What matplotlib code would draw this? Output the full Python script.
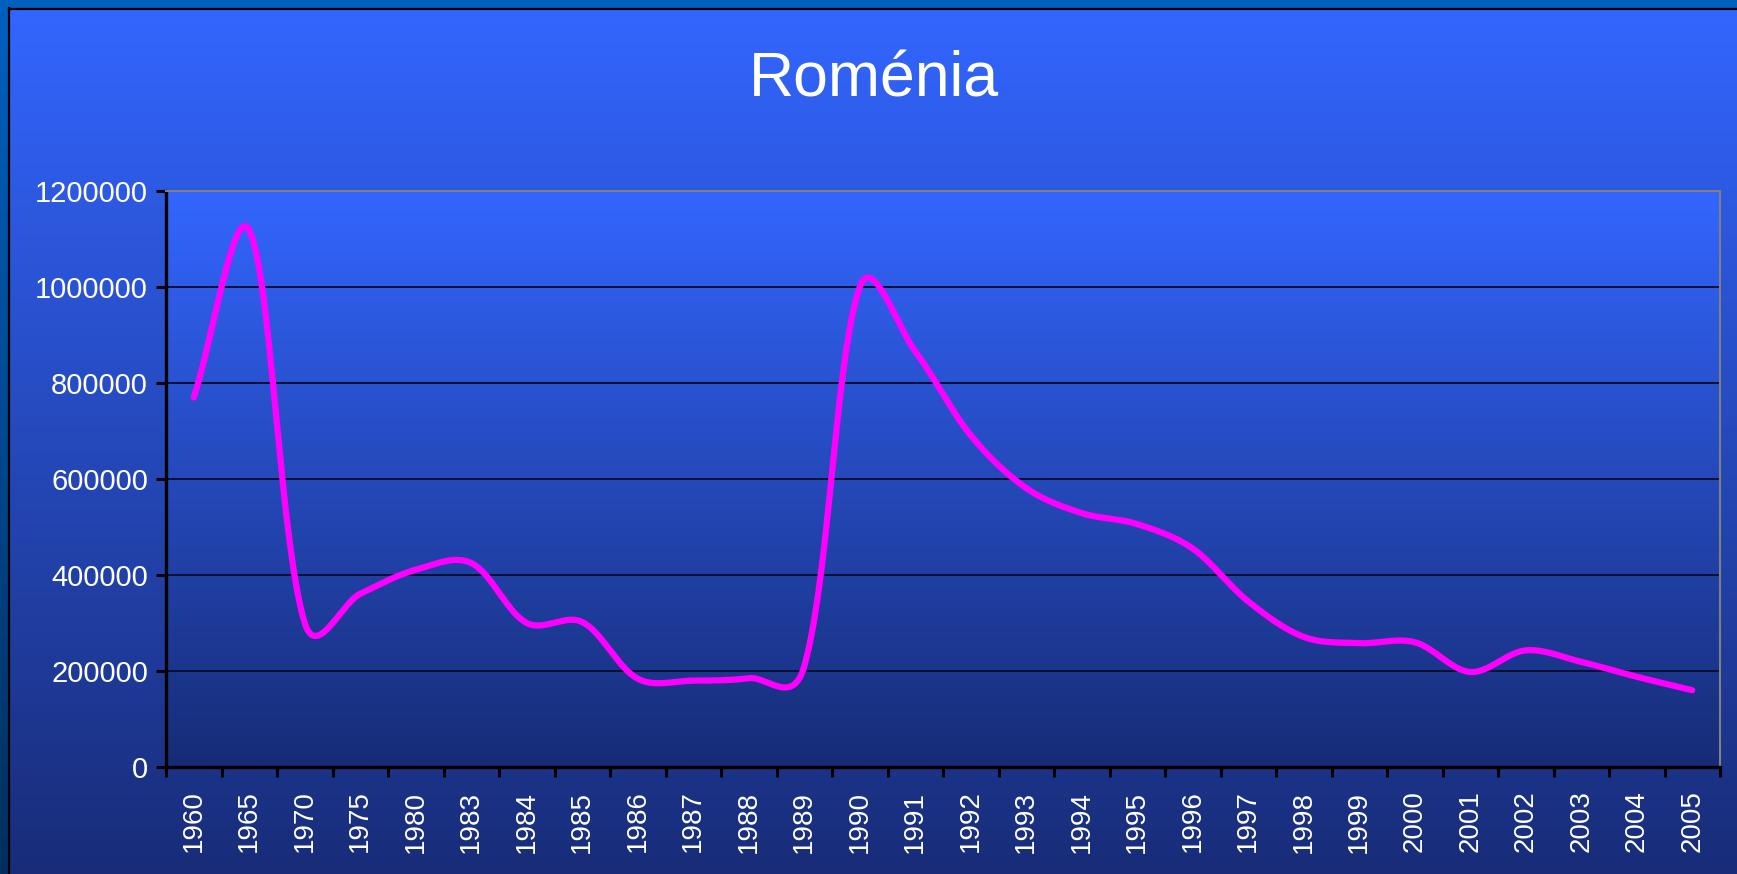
import numpy as np
import matplotlib
matplotlib.use('Agg')
import matplotlib.pyplot as plt
from matplotlib.lines import Line2D

plt.rcParams['font.family'] = ['Liberation Sans', 'DejaVu Sans']

anos = ['1960', '1965', '1970', '1975', '1980', '1983', '1984', '1985', '1986',
        '1987', '1988', '1989', '1990', '1991', '1992', '1993', '1994', '1995',
        '1996', '1997', '1998', '1999', '2000', '2001', '2002', '2003', '2004',
        '2005']
valores = [770000, 1118000, 300000, 361000, 411000, 425000, 300000, 302000,
           184000, 180000, 185000, 210000, 1000000, 866000, 691000, 581000,
           529000, 506000, 455000, 345000, 271000, 258000, 260000, 198000,
           243000, 219000, 188000, 160000]
marcas_y = [0, 200000, 400000, 600000, 800000, 1000000, 1200000]

W, H = 1737, 874
fig = plt.figure(figsize=(W / 100, H / 100), dpi=100)


def gradiente(c_top, c_bot, n=256):
    t = np.linspace(0, 1, n)[:, None]
    c_top = np.array(c_top) / 255
    c_bot = np.array(c_bot) / 255
    g = c_top * (1 - t) + c_bot * t
    return g[:, None, :]


# fundo do slide
bg = fig.add_axes([0, 0, 1, 1])
bg.imshow(gradiente((0, 96, 192), (0, 48, 96)), extent=[0, 1, 0, 1], aspect='auto')
bg.axis('off')

# área do gráfico
ca = fig.add_axes([9 / W, 0, 1 - 9 / W, 1 - 9 / H])
ca.imshow(gradiente((51, 102, 255), (24, 44, 120)), extent=[0, 1, 0, 1], aspect='auto')
ca.axis('off')
fig.add_artist(Line2D([8.5 / W, 8.5 / W], [0, 1 - 8 / H], color='black', lw=1.6))
fig.add_artist(Line2D([8.5 / W, 1], [1 - 8.5 / H, 1 - 8.5 / H], color='black', lw=1.6))

fig.text(874 / W, 1 - 80 / H, 'Roménia', color='white', fontsize=45,
         ha='center', va='center')

# área de plotagem
ax = fig.add_axes([166 / W, 107 / H, 1554 / W, 576 / H])
n = len(anos)
ax.set_xlim(0, n)
ax.set_ylim(0, 1200000)
ax.imshow(gradiente((51, 102, 255), (22, 44, 118)), extent=[0, n, 0, 1200000],
          aspect='auto', zorder=0)
for v in marcas_y[1:-1]:
    ax.axhline(v, color='#0a0f30', lw=1.4, zorder=1)

# linha suavizada: Bezier em pixels, tangentes amortecidas pelo comprimento dos trechos
x = np.arange(n) + 0.5
P = ax.transData.transform(np.column_stack([x, valores]))
c_in = P.copy()
c_out = P.copy()
for i in range(1, n - 1):
    T = P[i + 1] - P[i - 1]
    d1 = np.linalg.norm(P[i] - P[i - 1])
    d2 = np.linalg.norm(P[i + 1] - P[i])
    s_in = 0.25 + 0.5 * d1 / (d1 + d2)
    s_out = 0.25 + 0.5 * d2 / (d1 + d2)
    c_in[i] = P[i] - T * s_in / 3
    c_out[i] = P[i] + T * s_out / 3
c_out[0] = P[0] + (P[1] - P[0]) / 3
c_in[-1] = P[-1] - (P[-1] - P[-2]) / 3
t = np.linspace(0, 1, 40)[:, None]
curva = []
for i in range(n - 1):
    b = ((1 - t) ** 3 * P[i] + 3 * (1 - t) ** 2 * t * c_out[i]
         + 3 * (1 - t) * t ** 2 * c_in[i + 1] + t ** 3 * P[i + 1])
    curva.append(b)
curva = ax.transData.inverted().transform(np.vstack(curva))
ax.plot(curva[:, 0], curva[:, 1], color='#ff00ff', lw=4.5,
        solid_capstyle='round', solid_joinstyle='round', zorder=3)

for s in ['left', 'bottom']:
    ax.spines[s].set_color('black')
    ax.spines[s].set_linewidth(2.4)
for s in ['top', 'right']:
    ax.spines[s].set_color('#808080')
    ax.spines[s].set_linewidth(1.5)

ax.set_yticks(marcas_y)
ax.set_yticklabels([str(v) for v in marcas_y])
ax.tick_params(axis='y', length=7, width=2.2, color='black', labelcolor='white',
               labelsize=21, pad=6)
ax.set_xticks(np.arange(n + 1))
ax.set_xticklabels([])
ax.set_xticks(x, minor=True)
ax.set_xticklabels(anos, minor=True, rotation=90)
ax.tick_params(axis='x', which='major', length=7, width=2.2, color='black')
ax.tick_params(axis='x', which='minor', length=0, labelcolor='white',
               labelsize=20, pad=17)

fig.savefig('out.png', dpi=100)
